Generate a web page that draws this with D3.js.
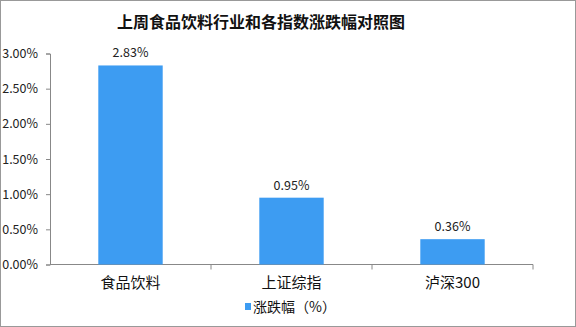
<!DOCTYPE html>
<html>
<head>
<meta charset="utf-8">
<script src="https://cdn.jsdelivr.net/npm/d3@7"></script>
<style>
  body { margin: 0; background: #fff; }
  text { font-family: "Noto Sans CJK SC", "DejaVu Sans", sans-serif; }
</style>
</head>
<body>
<div id="chart"></div>
<script>
// chart data
var categories = ["食品饮料", "上证综指", "泸深300"];
var changes = [2.83, 0.95, 0.36];
var yTicks = [0, 0.5, 1, 1.5, 2, 2.5, 3];
var title = "上周食品饮料行业和各指数涨跌幅对照图";
var legendLabel = "涨跌幅（%）";

var svgWidth = 576;
var svgHeight = 327;

var margin = { top: 53.5, right: 43, bottom: 62.5, left: 50 };
var width = svgWidth - margin.left - margin.right;
var height = svgHeight - margin.top - margin.bottom;

var svg = d3.select("#chart")
  .append("svg")
  .attr("width", svgWidth)
  .attr("height", svgHeight);

// outer frame
svg.append("rect")
  .attr("x", 0.5).attr("y", 0.5)
  .attr("width", svgWidth - 1).attr("height", svgHeight - 1)
  .attr("fill", "#fff")
  .attr("stroke", "#999");

svg.append("text")
  .attr("x", 261)
  .attr("y", 28)
  .attr("text-anchor", "middle")
  .attr("font-size", "16px")
  .attr("font-weight", "bold")
  .attr("fill", "#111")
  .text(title);

var chartGroup = svg.append("g")
  .attr("transform", `translate(${margin.left}, ${margin.top})`);

var xScale = d3.scaleBand()
  .domain(categories)
  .range([0, width])
  .paddingInner(0.6)
  .paddingOuter(0.3);

var yScale = d3.scaleLinear()
  .domain([0, 3])
  .range([height, 0]);

var leftAxis = d3.axisLeft(yScale)
  .tickValues(yTicks)
  .tickSize(4)
  .tickPadding(8)
  .tickFormat(d => d3.format(".2f")(d) + "%");

var yAxis = chartGroup.append("g").call(leftAxis);
yAxis.select(".domain").attr("stroke", "#888");
yAxis.selectAll(".tick line").attr("stroke", "#888");
yAxis.selectAll(".tick text")
  .attr("font-size", "12.5px")
  .attr("fill", "#222");

// bottom axis with ticks at band boundaries
var xAxisLine = chartGroup.append("g")
  .attr("transform", `translate(0, ${height})`);
xAxisLine.append("line")
  .attr("x1", 0).attr("x2", width)
  .attr("stroke", "#888");
var bounds = categories.map((c, i) => (i + 1) * width / categories.length);
xAxisLine.selectAll(".btick")
  .data(bounds)
  .enter()
  .append("line")
  .attr("x1", d => d).attr("x2", d => d)
  .attr("y1", 0).attr("y2", 5)
  .attr("stroke", "#888");

chartGroup.selectAll(".bar")
  .data(changes)
  .enter()
  .append("rect")
  .attr("x", (d, i) => xScale(categories[i]))
  .attr("y", d => yScale(d))
  .attr("width", xScale.bandwidth())
  .attr("height", d => height - yScale(d))
  .attr("fill", "#3d9cf2");

chartGroup.selectAll(".val")
  .data(changes)
  .enter()
  .append("text")
  .attr("x", (d, i) => xScale(categories[i]) + xScale.bandwidth() / 2)
  .attr("y", d => yScale(d) - 8)
  .attr("text-anchor", "middle")
  .attr("font-size", "12.5px")
  .attr("fill", "#222")
  .text(d => d.toFixed(2) + "%");

chartGroup.selectAll(".cat")
  .data(categories)
  .enter()
  .append("text")
  .attr("x", d => xScale(d) + xScale.bandwidth() / 2)
  .attr("y", height + 23)
  .attr("text-anchor", "middle")
  .attr("font-size", "15px")
  .attr("fill", "#111")
  .text(d => d);

// legend
svg.append("rect")
  .attr("x", 245).attr("y", 303)
  .attr("width", 6).attr("height", 7)
  .attr("fill", "#3d9cf2");
svg.append("text")
  .attr("x", 253).attr("y", 312)
  .attr("font-size", "14px")
  .attr("fill", "#111")
  .text(legendLabel);
</script>
</body>
</html>
